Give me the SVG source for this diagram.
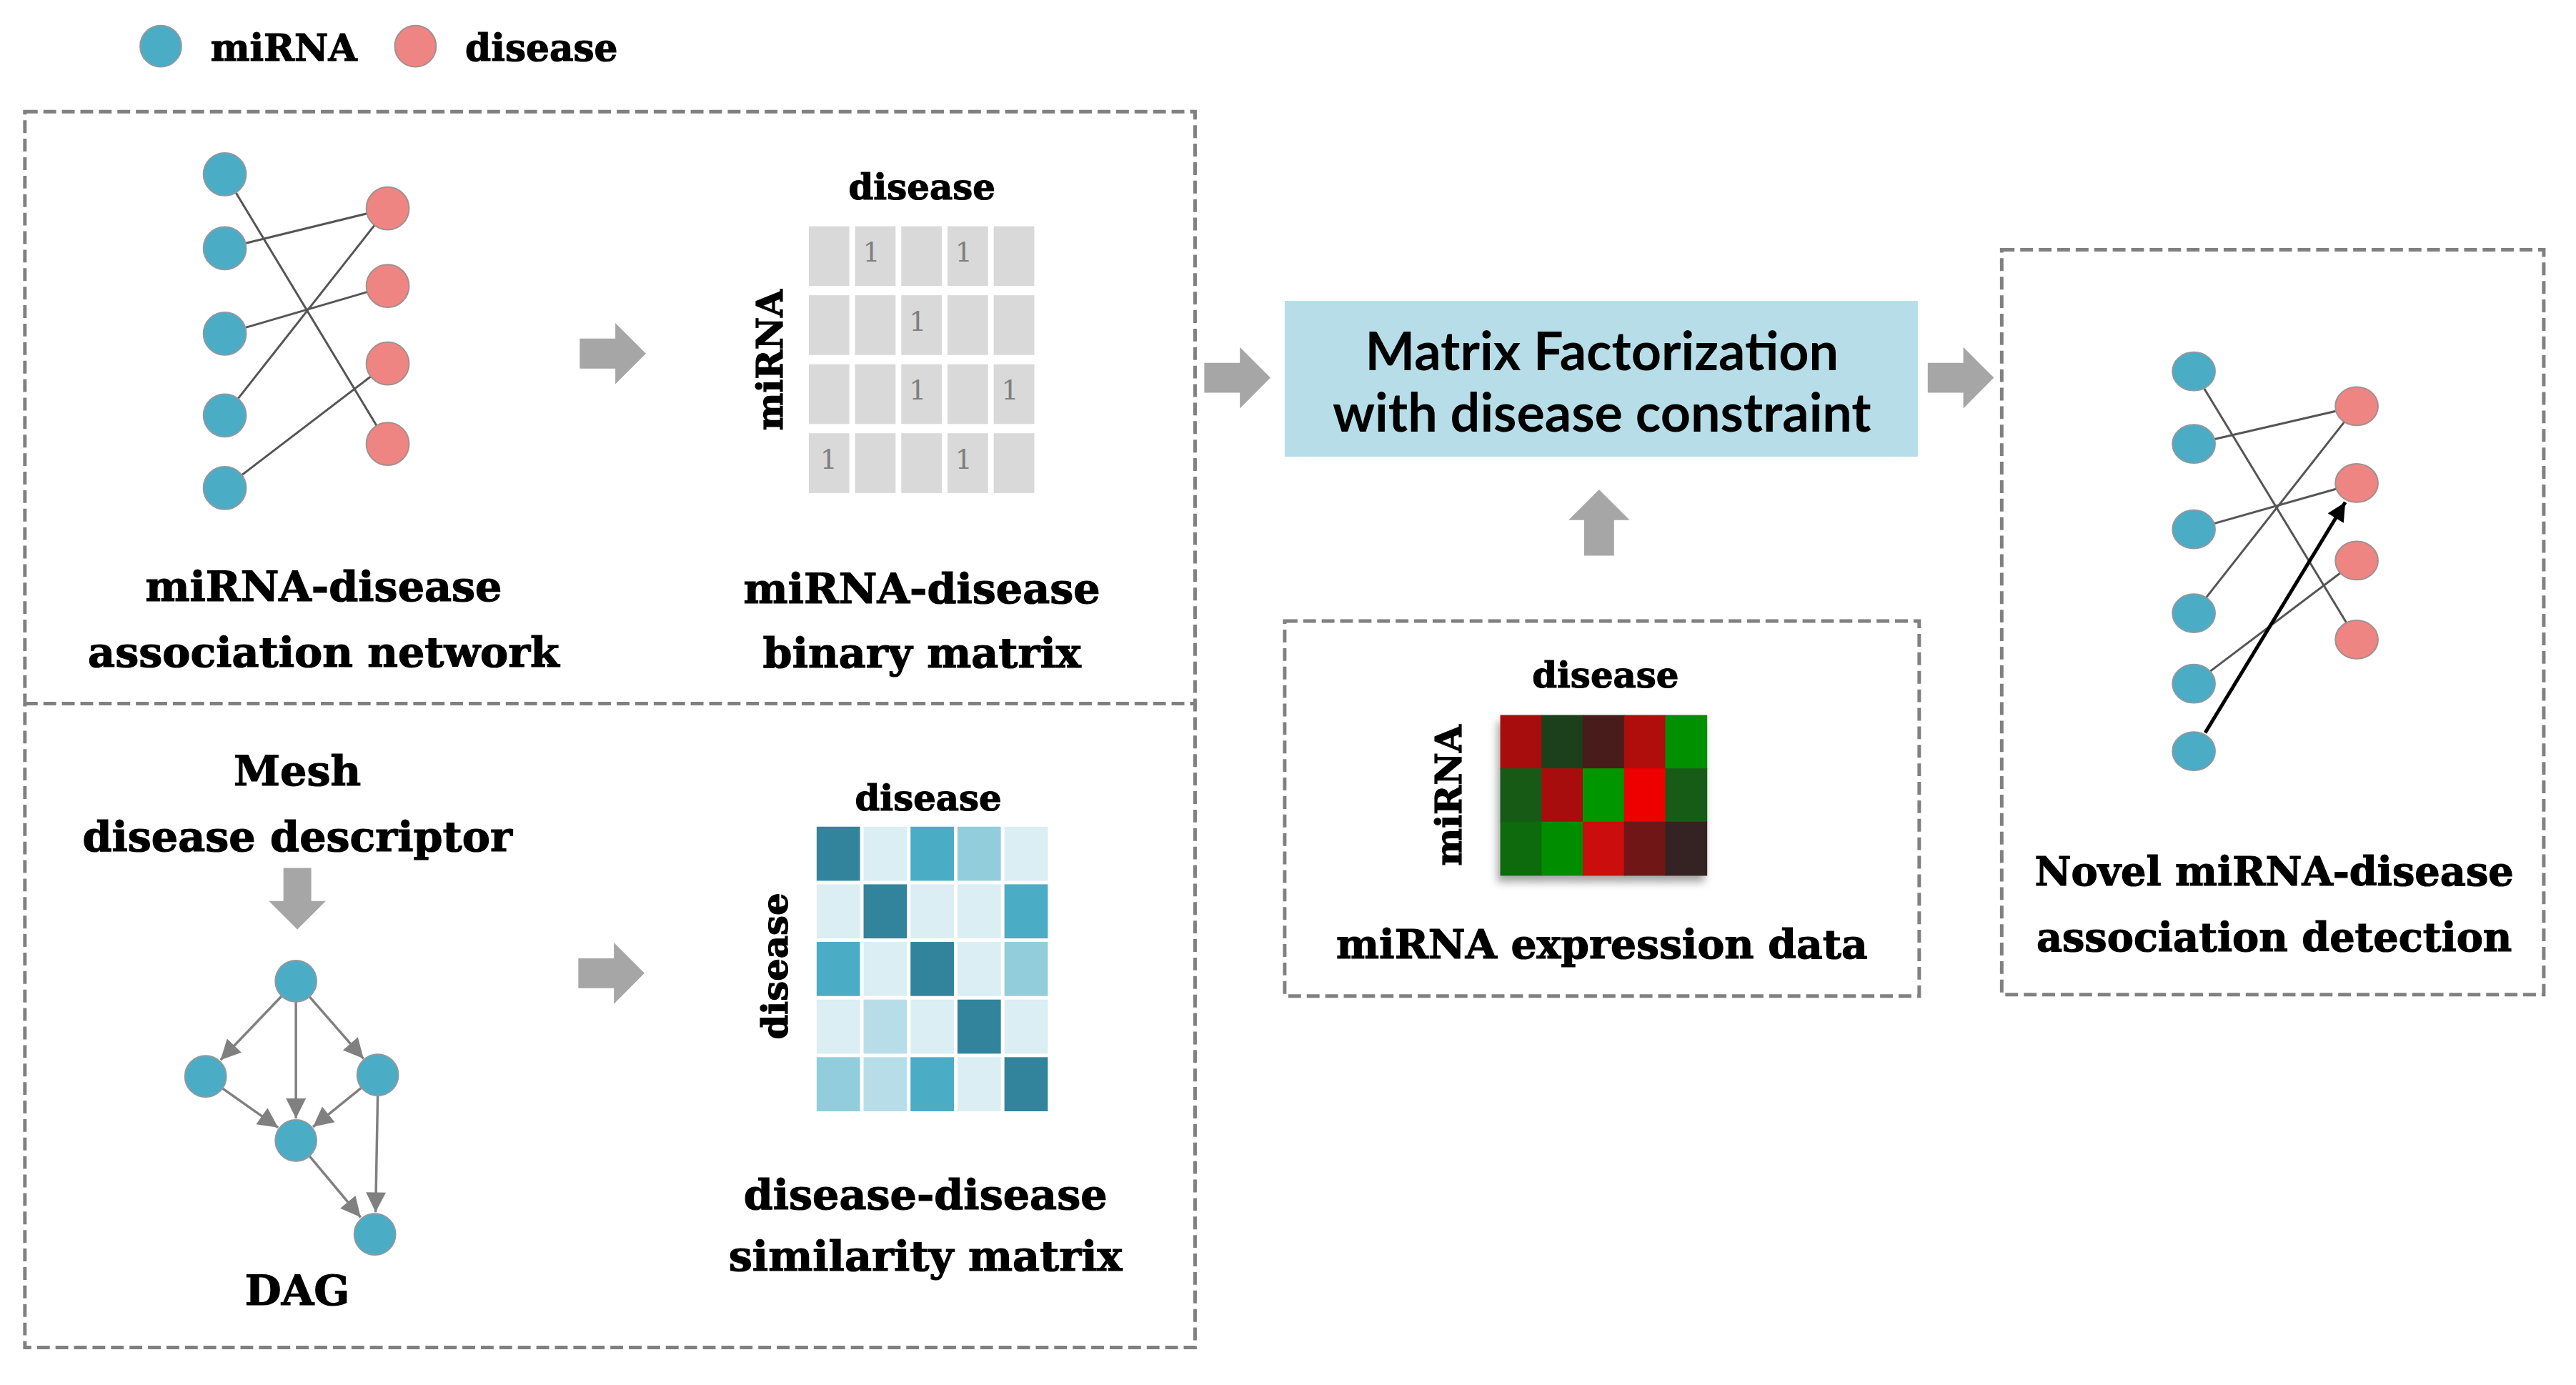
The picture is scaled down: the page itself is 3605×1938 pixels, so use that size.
<svg xmlns="http://www.w3.org/2000/svg" width="3605" height="1938" viewBox="0 0 3605 1938">
<style>
.lbl{font-family:"DejaVu Serif","Liberation Serif",serif;font-weight:bold;fill:#000;stroke:#000;stroke-width:1.2;text-anchor:middle}
.mf{font-family:Lato,"Liberation Sans",sans-serif;font-weight:bold;fill:#000;text-anchor:middle;font-size:74px}
.dash{fill:none;stroke:#808080;stroke-width:5;stroke-dasharray:18 8}
.mi{fill:#4BACC6;stroke:#8c9aa0;stroke-width:2}
.di{fill:#EF8582;stroke:#a09090;stroke-width:2}
.edge{stroke:#555;stroke-width:3;fill:none}
.dag{stroke:#808080;stroke-width:3.5;fill:none;marker-end:url(#ga)}
.cell{fill:#D9D9D9}
.one{font-family:"DejaVu Serif","Liberation Serif",serif;font-size:38px;fill:#7f7f7f;text-anchor:middle}
</style>
<defs>
<path id="barrow" d="M0,-21 H50 V-43 L93,0 L50,43 V21 H0 Z" fill="#A6A6A6"/>
<marker id="ga" viewBox="0 0 10 10" refX="10" refY="5" markerWidth="30" markerHeight="28" markerUnits="userSpaceOnUse" orient="auto"><path d="M0,0 L10,5 L0,10 z" fill="#808080"/></marker>
<marker id="ba" viewBox="0 0 10 10" refX="10" refY="5" markerWidth="30" markerHeight="26" markerUnits="userSpaceOnUse" orient="auto"><path d="M0,0 L10,5 L0,10 z" fill="#000"/></marker>
<filter id="sh" x="-20%" y="-20%" width="140%" height="150%"><feDropShadow dx="-4" dy="9" stdDeviation="6" flood-color="#000" flood-opacity="0.35"/></filter>
</defs>
<rect x="0" y="0" width="3605" height="1938" fill="#fff"/>
<g transform="scale(0.9955)">

<g id="legend">
<circle class="mi" cx="226" cy="65" r="29"/>
<text class="lbl" x="296" y="85" style="text-anchor:start;font-size:52px">miRNA</text>
<circle class="di" cx="584" cy="65" r="29"/>
<text class="lbl" x="654" y="85" style="text-anchor:start;font-size:52px">disease</text>
</g>

<g id="panels">
<rect class="dash" x="35" y="157" width="1645" height="1737"/>
<line class="dash" x1="35" y1="989" x2="1680" y2="989"/>
<rect class="dash" x="1806" y="873" width="892" height="527"/>
<rect class="dash" x="2814" y="351" width="762" height="1047"/>
</g>

<g id="connectors">
<g id="net-left-edges">
<line class="edge" x1="316" y1="245" x2="545" y2="624"/>
<line class="edge" x1="316" y1="349" x2="545" y2="293"/>
<line class="edge" x1="316" y1="469" x2="545" y2="402"/>
<line class="edge" x1="316" y1="584" x2="545" y2="293"/>
<line class="edge" x1="316" y1="686" x2="545" y2="511"/>
</g>
<g id="net-right-edges">
<line class="edge" x1="3084" y1="522" x2="3313" y2="899"/>
<line class="edge" x1="3084" y1="624" x2="3313" y2="571"/>
<line class="edge" x1="3084" y1="744" x2="3313" y2="679"/>
<line class="edge" x1="3084" y1="862" x2="3313" y2="571"/>
<line class="edge" x1="3084" y1="961" x2="3313" y2="788"/>
<line x1="3100" y1="1030" x2="3297" y2="706" stroke="#000" stroke-width="5" marker-end="url(#ba)"/>
</g>
<g id="dag-edges">
<line class="dag" x1="396" y1="1400" x2="310" y2="1490"/>
<line class="dag" x1="416" y1="1408" x2="416" y2="1572"/>
<line class="dag" x1="435" y1="1401" x2="511" y2="1488"/>
<line class="dag" x1="313" y1="1530" x2="391" y2="1585"/>
<line class="dag" x1="508" y1="1529" x2="440" y2="1584"/>
<line class="dag" x1="531" y1="1540" x2="528" y2="1704"/>
<line class="dag" x1="435" y1="1625" x2="507" y2="1711"/>
</g>
<g id="block-arrows">
<use href="#barrow" transform="translate(815,497)"/>
<use href="#barrow" transform="translate(813,1368)"/>
<use href="#barrow" transform="translate(1693,531)"/>
<use href="#barrow" transform="translate(2710,531)"/>
<use href="#barrow" transform="translate(2248,781) rotate(-90)"/>
<use href="#barrow" transform="translate(418,1220) rotate(90) scale(0.93)"/>
</g>
</g>

<g id="association-network">
<circle class="mi" cx="316" cy="245" r="30"/>
<circle class="mi" cx="316" cy="349" r="30"/>
<circle class="mi" cx="316" cy="469" r="30"/>
<circle class="mi" cx="316" cy="584" r="30"/>
<circle class="mi" cx="316" cy="686" r="30"/>
<circle class="di" cx="545" cy="293" r="30"/>
<circle class="di" cx="545" cy="402" r="30"/>
<circle class="di" cx="545" cy="511" r="30"/>
<circle class="di" cx="545" cy="624" r="30"/>
<text class="lbl" x="455" y="845" style="font-size:59px">miRNA-disease</text>
<text class="lbl" x="455" y="937" style="font-size:59px">association network</text>
</g>

<g id="binary-matrix">
<text class="lbl" x="1296" y="280" style="font-size:50px">disease</text>
<text class="lbl" transform="translate(1100,506) rotate(-90)" style="font-size:50px">miRNA</text>
<rect class="cell" x="1137" y="318" width="57" height="84"/>
<rect class="cell" x="1202" y="318" width="57" height="84"/>
<rect class="cell" x="1267" y="318" width="57" height="84"/>
<rect class="cell" x="1332" y="318" width="57" height="84"/>
<rect class="cell" x="1397" y="318" width="57" height="84"/>
<rect class="cell" x="1137" y="415" width="57" height="84"/>
<rect class="cell" x="1202" y="415" width="57" height="84"/>
<rect class="cell" x="1267" y="415" width="57" height="84"/>
<rect class="cell" x="1332" y="415" width="57" height="84"/>
<rect class="cell" x="1397" y="415" width="57" height="84"/>
<rect class="cell" x="1137" y="512" width="57" height="84"/>
<rect class="cell" x="1202" y="512" width="57" height="84"/>
<rect class="cell" x="1267" y="512" width="57" height="84"/>
<rect class="cell" x="1332" y="512" width="57" height="84"/>
<rect class="cell" x="1397" y="512" width="57" height="84"/>
<rect class="cell" x="1137" y="609" width="57" height="84"/>
<rect class="cell" x="1202" y="609" width="57" height="84"/>
<rect class="cell" x="1267" y="609" width="57" height="84"/>
<rect class="cell" x="1332" y="609" width="57" height="84"/>
<rect class="cell" x="1397" y="609" width="57" height="84"/>
<text class="one" x="1225" y="368">1</text>
<text class="one" x="1355" y="368">1</text>
<text class="one" x="1290" y="465">1</text>
<text class="one" x="1290" y="562">1</text>
<text class="one" x="1420" y="562">1</text>
<text class="one" x="1165" y="659">1</text>
<text class="one" x="1355" y="659">1</text>
<text class="lbl" x="1296" y="848" style="font-size:59px">miRNA-disease</text>
<text class="lbl" x="1296" y="938" style="font-size:59px">binary matrix</text>
</g>

<g id="dag">
<text class="lbl" x="418" y="1104" style="font-size:59px">Mesh</text>
<text class="lbl" x="418" y="1196" style="font-size:59px">disease descriptor</text>
<circle class="mi" cx="416" cy="1379" r="29"/>
<circle class="mi" cx="289" cy="1513" r="29"/>
<circle class="mi" cx="531" cy="1511" r="29"/>
<circle class="mi" cx="416" cy="1603" r="29"/>
<circle class="mi" cx="527" cy="1735" r="29"/>
<text class="lbl" x="418" y="1834" style="font-size:59px">DAG</text>
</g>

<g id="similarity-matrix">
<text class="lbl" x="1305" y="1139" style="font-size:50px">disease</text>
<text class="lbl" transform="translate(1107,1358) rotate(-90)" style="font-size:50px">disease</text>
<g transform="translate(1148,1162)">
<rect x="0" y="0" width="61" height="76" fill="#31849B"/>
<rect x="66" y="0" width="61" height="76" fill="#DAEEF3"/>
<rect x="132" y="0" width="61" height="76" fill="#4BACC6"/>
<rect x="198" y="0" width="61" height="76" fill="#92CDDC"/>
<rect x="264" y="0" width="61" height="76" fill="#DAEEF3"/>
<rect x="0" y="81" width="61" height="76" fill="#DAEEF3"/>
<rect x="66" y="81" width="61" height="76" fill="#31849B"/>
<rect x="132" y="81" width="61" height="76" fill="#DAEEF3"/>
<rect x="198" y="81" width="61" height="76" fill="#DAEEF3"/>
<rect x="264" y="81" width="61" height="76" fill="#4BACC6"/>
<rect x="0" y="162" width="61" height="76" fill="#4BACC6"/>
<rect x="66" y="162" width="61" height="76" fill="#DAEEF3"/>
<rect x="132" y="162" width="61" height="76" fill="#31849B"/>
<rect x="198" y="162" width="61" height="76" fill="#DAEEF3"/>
<rect x="264" y="162" width="61" height="76" fill="#92CDDC"/>
<rect x="0" y="243" width="61" height="76" fill="#DAEEF3"/>
<rect x="66" y="243" width="61" height="76" fill="#B7DEE8"/>
<rect x="132" y="243" width="61" height="76" fill="#DAEEF3"/>
<rect x="198" y="243" width="61" height="76" fill="#31849B"/>
<rect x="264" y="243" width="61" height="76" fill="#DAEEF3"/>
<rect x="0" y="324" width="61" height="76" fill="#92CDDC"/>
<rect x="66" y="324" width="61" height="76" fill="#B7DEE8"/>
<rect x="132" y="324" width="61" height="76" fill="#4BACC6"/>
<rect x="198" y="324" width="61" height="76" fill="#DAEEF3"/>
<rect x="264" y="324" width="61" height="76" fill="#31849B"/>
</g>
<text class="lbl" x="1301" y="1700" style="font-size:59px">disease-disease</text>
<text class="lbl" x="1301" y="1786" style="font-size:59px">similarity matrix</text>
</g>

<g id="matrix-factorization">
<rect x="1806" y="423" width="890" height="219" fill="#B7DEE8"/>
<text class="mf" x="2252" y="520">Matrix Factorization</text>
<text class="mf" x="2252" y="607">with disease constraint</text>
</g>

<g id="expression-data">
<text class="lbl" x="2257" y="966" style="font-size:50px">disease</text>
<text class="lbl" transform="translate(2054,1118) rotate(-90)" style="font-size:50px">miRNA</text>
<g transform="translate(2109,1005)" filter="url(#sh)">
<rect x="0" y="0" width="59" height="76" fill="#A81010"/>
<rect x="58" y="0" width="59" height="76" fill="#1E3F1A"/>
<rect x="116" y="0" width="59" height="76" fill="#4A1E1E"/>
<rect x="174" y="0" width="59" height="76" fill="#B01010"/>
<rect x="232" y="0" width="59" height="76" fill="#009000"/>
<rect x="0" y="75" width="59" height="76" fill="#165A16"/>
<rect x="58" y="75" width="59" height="76" fill="#A80E0E"/>
<rect x="116" y="75" width="59" height="76" fill="#009600"/>
<rect x="174" y="75" width="59" height="76" fill="#EE0000"/>
<rect x="232" y="75" width="59" height="76" fill="#155C15"/>
<rect x="0" y="150" width="59" height="76" fill="#106A10"/>
<rect x="58" y="150" width="59" height="76" fill="#008E00"/>
<rect x="116" y="150" width="59" height="76" fill="#CC0808"/>
<rect x="174" y="150" width="59" height="76" fill="#701818"/>
<rect x="232" y="150" width="59" height="76" fill="#352020"/>
</g>
<text class="lbl" x="2252" y="1347" style="font-size:57px">miRNA expression data</text>
</g>

<g id="novel-detection">
<ellipse class="mi" cx="3084" cy="522" rx="30" ry="27"/>
<ellipse class="mi" cx="3084" cy="624" rx="30" ry="27"/>
<ellipse class="mi" cx="3084" cy="744" rx="30" ry="27"/>
<ellipse class="mi" cx="3084" cy="862" rx="30" ry="27"/>
<ellipse class="mi" cx="3084" cy="961" rx="30" ry="27"/>
<ellipse class="mi" cx="3084" cy="1056" rx="30" ry="27"/>
<ellipse class="di" cx="3313" cy="571" rx="30" ry="27"/>
<ellipse class="di" cx="3313" cy="679" rx="30" ry="27"/>
<ellipse class="di" cx="3313" cy="788" rx="30" ry="27"/>
<ellipse class="di" cx="3313" cy="899" rx="30" ry="27"/>
<text class="lbl" x="3197" y="1245" style="font-size:56px">Novel miRNA-disease</text>
<text class="lbl" x="3197" y="1337" style="font-size:56px">association detection</text>
</g>
</g>
</svg>
